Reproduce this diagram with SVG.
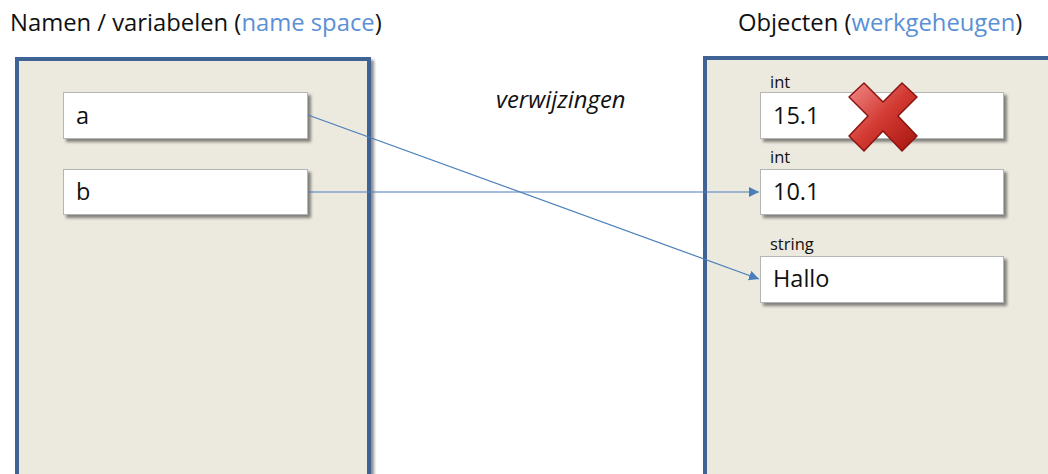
<svg xmlns="http://www.w3.org/2000/svg" width="1048" height="474" viewBox="0 0 1048 474">
  <defs>
    <filter id="shadow" x="-10%" y="-10%" width="130%" height="140%">
      <feGaussianBlur in="SourceAlpha" stdDeviation="1.8"/>
      <feOffset dx="3" dy="3" result="b"/>
      <feComponentTransfer><feFuncA type="linear" slope="0.45"/></feComponentTransfer>
      <feMerge><feMergeNode/><feMergeNode in="SourceGraphic"/></feMerge>
    </filter>
    <linearGradient id="xgrad" x1="0" y1="0" x2="1" y2="1">
      <stop offset="0" stop-color="#f08a8a"/>
      <stop offset="0.5" stop-color="#d23a32"/>
      <stop offset="1" stop-color="#a5150f"/>
    </linearGradient>
    <marker id="arrow" viewBox="0 0 10 10" refX="10" refY="5" markerWidth="10" markerHeight="10" markerUnits="userSpaceOnUse" orient="auto">
      <path d="M0,0 L10,5 L0,10 z" fill="#4a7ebb"/>
    </marker>
    <style>
      .panel { fill: #ece9df; stroke: #3f6495; stroke-width: 4; }
      .box { fill: #ffffff; stroke: #b5b5b5; stroke-width: 1; }
      .title { font-family: "Open Sans", "Liberation Sans", sans-serif; font-size: 23.8px; fill: #111111; }
      .blue { fill: #5b8fd6; }
      .val { font-family: "Open Sans", "Liberation Sans", sans-serif; font-size: 23.5px; fill: #111111; }
      .type { font-family: "Open Sans", "Liberation Sans", sans-serif; font-size: 16.5px; fill: #111111; }
      .conn { stroke: #4a7ebb; stroke-width: 1.2; fill: none; marker-end: url(#arrow); }
    </style>
  </defs>

  <rect width="1048" height="474" fill="#ffffff"/>

  <!-- headings -->
  <text class="title" x="10" y="31">Namen / variabelen (<tspan class="blue">name space</tspan>)</text>
  <text class="title" x="738" y="31">Objecten (<tspan class="blue">werkgeheugen</tspan>)</text>
  <text x="496" y="108" font-family="Open Sans, Liberation Sans, sans-serif" font-style="italic" font-size="23.8" fill="#111111">verwijzingen</text>

  <!-- name space panel -->
  <g id="namespace">
    <rect class="panel" x="17" y="59" width="352" height="440" filter="url(#shadow)"/>
  </g>

  <!-- object memory panel -->
  <g id="memory">
    <rect class="panel" x="705" y="58" width="380" height="440" filter="url(#shadow)"/>
  </g>

  <g id="var-a">
    <rect class="box" x="63.5" y="92.5" width="244" height="46" filter="url(#shadow)"/>
    <text class="val" x="76" y="124">a</text>
  </g>

  <g id="var-b">
    <rect class="box" x="63.5" y="169.5" width="244" height="45" filter="url(#shadow)"/>
    <text class="val" x="76" y="200">b</text>
  </g>

  <g id="obj-15">
    <text class="type" x="770" y="88">int</text>
    <rect class="box" x="760.5" y="92.5" width="243" height="46" filter="url(#shadow)"/>
    <text class="val" x="773" y="124">15.1</text>
    <!-- delete mark -->
    <path d="M849,97 L864,83 L883,102 L902,83 L917,97 L898,116 L917,136 L902,151 L883,131 L864,151 L849,136 L868,116 Z" fill="url(#xgrad)" stroke="#8a1410" stroke-width="1.5" stroke-linejoin="round"/>
  </g>

  <g id="obj-10">
    <text class="type" x="770" y="163">int</text>
    <rect class="box" x="760.5" y="169.5" width="243" height="45" filter="url(#shadow)"/>
    <text class="val" x="773" y="200">10.1</text>
  </g>

  <g id="obj-hallo">
    <text class="type" x="770" y="250">string</text>
    <rect class="box" x="760.5" y="256.5" width="243" height="46" filter="url(#shadow)"/>
    <text class="val" x="773" y="287">Hallo</text>
  </g>

  <!-- references -->
  <g id="connectors">
    <line class="conn" x1="308" y1="115" x2="759" y2="279"/>
    <line class="conn" x1="308" y1="192" x2="759" y2="192"/>
  </g>
</svg>
